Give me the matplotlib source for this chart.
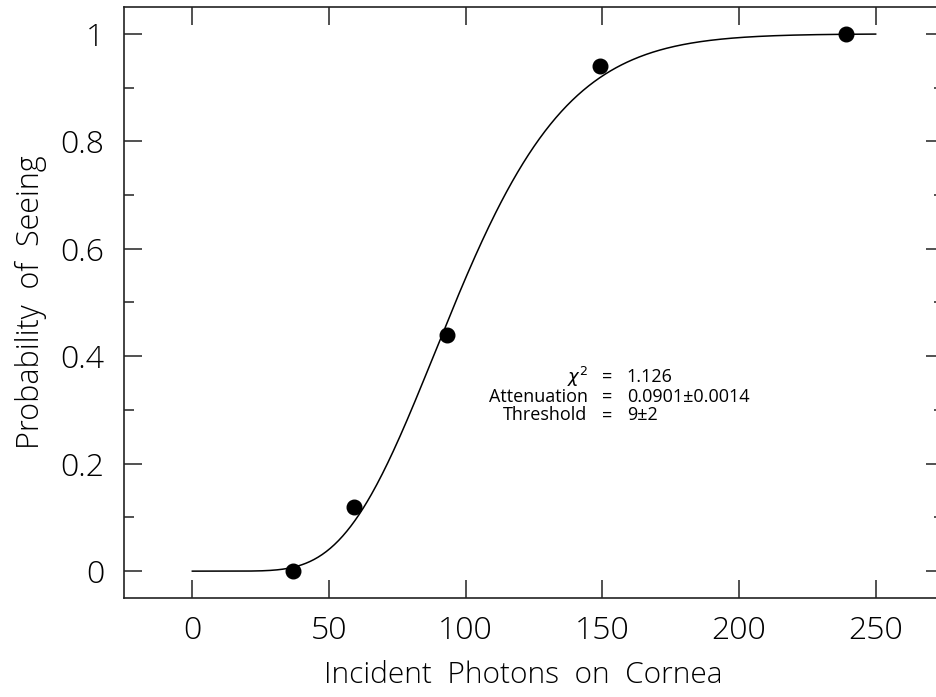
import math
import numpy as np
import matplotlib
matplotlib.use("Agg")
import matplotlib.pyplot as plt
from matplotlib.ticker import MultipleLocator

# Measured data points
photons = [37, 59, 93, 149, 239]
prob_seeing = [0.0, 0.12, 0.44, 0.94, 1.0]

# Fit parameters (from annotation)
chi2 = 1.126
attenuation = 0.0901
attenuation_err = 0.0014
threshold = 9
threshold_err = 2

x_ticks = [0, 50, 100, 150, 200, 250]
y_ticks = [0, 0.2, 0.4, 0.6, 0.8, 1.0]
y_tick_labels = ["0", "0.2", "0.4", "0.6", "0.8", "1"]

FONT = ["Open Sans", "DejaVu Sans"]
plt.rcParams['font.family'] = FONT
plt.rcParams['mathtext.fontset'] = 'custom'
plt.rcParams['mathtext.it'] = 'DejaVu Sans:italic'

fig = plt.figure(figsize=(9.36, 6.97), dpi=100)
ax = fig.add_axes([124/936, 1 - 598/697, 820/936, 591/697])

# Fitted Poisson model curve: P(n >= threshold) with mean = attenuation * N
def prob_model(N):
    m = attenuation * N
    s = sum(math.exp(-m) * m**k / math.factorial(k) for k in range(threshold))
    return 1.0 - s

xc = np.linspace(0, 250, 501)
yc = [prob_model(v) for v in xc]
ax.plot(xc, yc, color="black", lw=1.1)
ax.plot(photons, prob_seeing, "o", color="black", ms=10.5, zorder=3)

ax.set_xlim(-25, 275)
ax.set_ylim(-0.05, 1.05)
ax.set_xticks(x_ticks)
ax.set_yticks(y_ticks)
ax.set_yticklabels(y_tick_labels)
ax.yaxis.set_minor_locator(MultipleLocator(0.1))
ax.tick_params(which="both", direction="in", top=True, right=True, width=1.1, color="#222222")
ax.tick_params(which="major", length=13)
ax.tick_params(which="minor", length=7.5)
ax.tick_params(axis="y", which="major", pad=14, labelsize=23)
ax.tick_params(axis="x", which="major", pad=12, labelsize=23)
for sp in ax.spines.values():
    sp.set_linewidth(1.2)
    sp.set_color("#222222")
for lab in ax.get_xticklabels() + ax.get_yticklabels():
    lab.set_fontweight("light")

ax.set_xlabel("Incident  Photons  on  Cornea", fontsize=21.5, fontweight="light")
ax.xaxis.set_label_coords((523.5 - 124) / 820, -(683 - 598) / 591)
ax.xaxis.label.set_va("baseline")
ax.set_ylabel("Probability  of  Seeing", fontsize=22, fontweight="light", labelpad=10)

# Annotation block
rows = [
    (r"$\chi^2$", f"{chi2:.3f}", 0.362),
    ("Attenuation", f"{attenuation:.4f}\u00b1{attenuation_err:.4f}", 0.325),
    ("Threshold", f"{threshold}\u00b1{threshold_err}", 0.290),
]
for name, val, yy in rows:
    ax.text(144.6, yy, name, ha="right", va="center", fontsize=13)
    ax.text(151.9, yy, "=", ha="center", va="center", fontsize=13)
    ax.text(158.9, yy, val, ha="left", va="center", fontsize=13)

fig.savefig("out.png", dpi=100)
